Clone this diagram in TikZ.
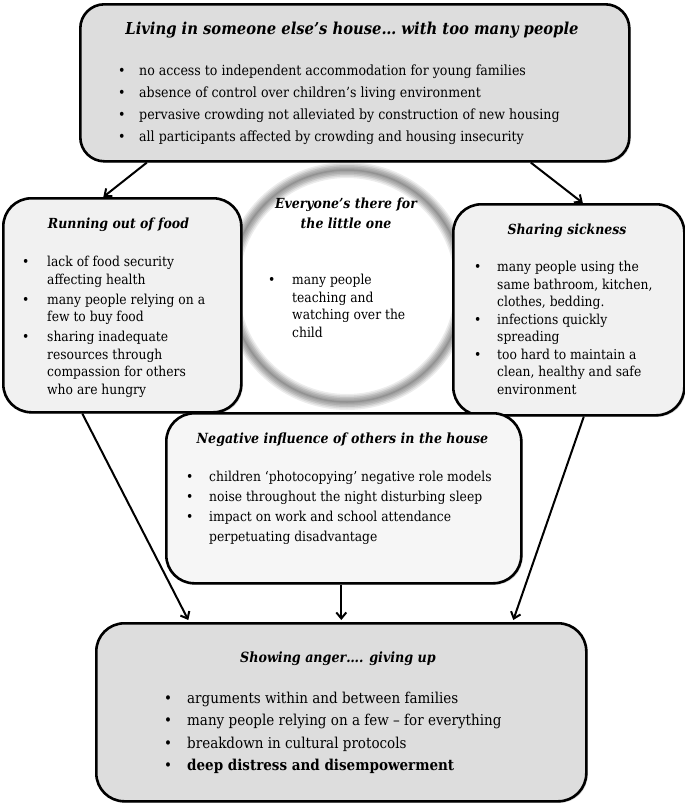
\documentclass[tikz,border=0pt]{standalone}
\usepackage{fontspec}
\setmainfont{DejaVu Serif Condensed}
\usetikzlibrary{arrows.meta,shadows,calc}
\newcommand{\bl}{\textbullet}
\begin{document}
\begin{tikzpicture}[x=1pt,y=-1pt,
  box/.style={draw=black, line width=2.6pt, rounded corners=28pt, anchor=north west,
    drop shadow={shadow xshift=1.5pt, shadow yshift=-1.5pt, opacity=0.3}},
  ttl/.style={font=\fontsize{13.9}{17}\selectfont\bfseries\itshape, anchor=base, align=center, inner sep=0pt},
  lst/.style={anchor=base west, inner sep=0pt, align=left},
  arr/.style={line width=2pt, -{Straight Barb[length=6pt,width=10pt,line width=2pt]}}
]
\useasboundingbox (0,0) rectangle (685,803);

% ring
\node[circle, minimum size=232pt, inner sep=0pt] (ring) at (347,286) {};
\foreach \w/\c in {16/gray!15, 13/gray!30, 10/gray!48, 7/gray!62, 4/gray!72, 1.5/gray!85}
  \draw[line width=\w pt, \c] (ring.center) circle (116);

% boxes
\node[box, fill=gray!27, minimum width=549pt, minimum height=157pt, rounded corners=24pt] (top) at (79,3) {};
\node[box, fill=gray!11, minimum width=238pt, minimum height=214pt] (left) at (2,197) {};
\node[box, fill=gray!11, minimum width=231pt, minimum height=211pt] (right) at (452,203) {};
\node[box, fill=gray!7, minimum width=355pt, minimum height=170pt] (mid) at (165,412) {};
\node[box, fill=gray!27, minimum width=490pt, minimum height=178pt] (bot) at (95,622) {};

% top text
\node[ttl, font=\fontsize{16.4}{20}\selectfont\bfseries\itshape] (toptitle) at (352,34) {Living in someone else’s house… with too many people};
\node[lst, font=\fontsize{14}{22}\selectfont] (toplist) at (118,75) {%
\begin{tabular}[t]{@{}p{21pt}@{}l@{}}
\bl & no access to independent accommodation for young families\\
\bl & absence of control over children’s living environment\\
\bl & pervasive crowding not alleviated by construction of new housing\\
\bl & all participants affected by crowding and housing insecurity
\end{tabular}};

% left text
\node[ttl] (lefttitle) at (118.5,228) {Running out of food};
\node[lst, font=\fontsize{13.7}{17.5}\selectfont] (leftlist) at (22,266.5) {%
\begin{tabular}[t]{@{}p{25pt}@{}l@{}}
\bl & lack of food security\\
    & affecting health\\[2.5pt]
\bl & many people relying on a\\
    & few to buy food\\[2.5pt]
\bl & sharing inadequate\\
    & resources through\\
    & compassion for others\\
    & who are hungry
\end{tabular}};

% ring text
\node[ttl] (ringtitle) at (346,228) {Everyone’s there for\\[3pt]the little one};
\node[lst, font=\fontsize{13.7}{17.5}\selectfont] (ringlist) at (268,284.5) {%
\begin{tabular}[t]{@{}p{24pt}@{}l@{}}
\bl & many people\\
    & teaching and\\
    & watching over the\\
    & child
\end{tabular}};

% right text
\node[ttl] (righttitle) at (567,234) {Sharing sickness};
\node[lst, font=\fontsize{13.7}{17.5}\selectfont] (rightlist) at (474,271.5) {%
\begin{tabular}[t]{@{}p{23pt}@{}l@{}}
\bl & many people using the\\
    & same bathroom, kitchen,\\
    & clothes, bedding.\\
\bl & infections quickly\\
    & spreading\\
\bl & too hard to maintain a\\
    & clean, healthy and safe\\
    & environment
\end{tabular}};

% middle text
\node[ttl, font=\fontsize{14}{17}\selectfont\bfseries\itshape] (midtitle) at (342.5,443) {Negative influence of others in the house};
\node[lst, font=\fontsize{13.7}{20}\selectfont] (midlist) at (186,481.5) {%
\begin{tabular}[t]{@{}p{23pt}@{}l@{}}
\bl & children ‘photocopying’ negative role models\\
\bl & noise throughout the night disturbing sleep\\
\bl & impact on work and school attendance\\
    & perpetuating disadvantage
\end{tabular}};

% bottom text
\node[ttl, font=\fontsize{14.1}{17}\selectfont\bfseries\itshape] (bottitle) at (338,662) {Showing anger…. giving up};
\node[lst, font=\fontsize{15}{22.5}\selectfont] (botlist) at (164,703) {%
\begin{tabular}[t]{@{}p{23pt}@{}l@{}}
\bl & arguments within and between families\\
\bl & many people relying on a few – for everything\\
\bl & breakdown in cultural protocols\\
\bl & \textbf{deep distress and disempowerment}
\end{tabular}};

% arrows
\draw[arr] ([xshift=-208pt]top.south) -- ([xshift=-19pt]left.north);
\draw[arr] ([xshift=176pt]top.south) -- ([xshift=14pt]right.north);
\draw[arr] ([xshift=-40pt]left.south) -- ([xshift=-153pt,yshift=2pt]bot.north);
\draw[arr] ([xshift=-2.5pt]mid.south) -- ([xshift=0pt,yshift=2pt]bot.north);
\draw[arr] ([xshift=15pt]right.south) -- ([xshift=172pt,yshift=2pt]bot.north);
\end{tikzpicture}
\end{document}
